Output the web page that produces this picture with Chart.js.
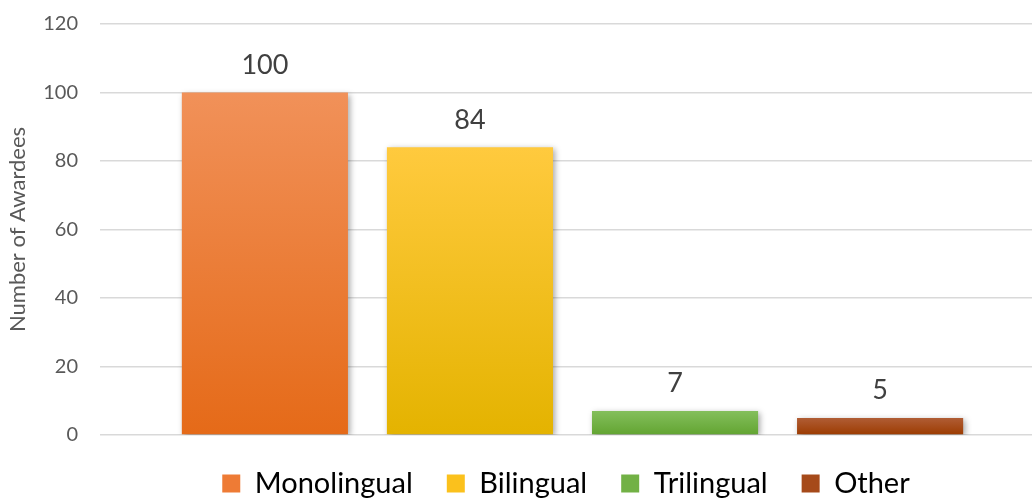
<!DOCTYPE html>
<html>
<head>
<meta charset="utf-8">
<script src="https://cdn.jsdelivr.net/npm/chart.js@4"></script>
<style>
  html, body { margin: 0; padding: 0; background: #fff; }
  #wrap { width: 1032px; height: 499px; }
</style>
</head>
<body>
<div id="wrap"><canvas id="c" width="1032" height="499"></canvas></div>
<script>
const seriesNames = ['Monolingual', 'Bilingual', 'Trilingual', 'Other'];
const seriesValues = [100, 84, 7, 5];
const yTicks = [0, 20, 40, 60, 80, 100, 120];
// gradient top / bottom colours, and a flat colour for the legend
const topColors = ['#F19159', '#FFCA3E', '#84BF5C', '#B05D35'];
const bottomColors = ['#E56A18', '#E4B300', '#62A431', '#9C3B00'];
const legendColors = ['#EE7B35', '#FBC11C', '#72B145', '#A64A1A'];
const FONT = 'Lato, "Open Sans", sans-serif';

// each bar gets its own top-to-bottom gradient
function gradient(i) {
  return (context) => {
    const chart = context.chart;
    const y = chart.scales.y;
    if (!chart.chartArea || !y) return legendColors[i];
    const top = y.getPixelForValue(seriesValues[i]);
    const bottom = y.getPixelForValue(0);
    const g = chart.ctx.createLinearGradient(0, top, 0, bottom);
    g.addColorStop(0, topColors[i]);
    g.addColorStop(1, bottomColors[i]);
    return g;
  };
}

// the original plot runs a little past the right edge of the picture
const widenX = {
  id: 'widenX',
  afterLayout(chart) {
    const x = chart.scales.x;
    x.right += 13;
    x.width = x.right - x.left;
    x.configure();
  }
};

// soft shadow under the bars
const shadowPlugin = {
  id: 'barShadow',
  beforeDatasetsDraw(chart) {
    const ctx = chart.ctx;
    ctx.save();
    ctx.shadowColor = 'rgba(0,0,0,0.35)';
    ctx.shadowBlur = 6;
    ctx.shadowOffsetX = 2;
    ctx.shadowOffsetY = 2;
  },
  afterDatasetsDraw(chart) {
    chart.ctx.restore();
  }
};

// value labels above the bars
const valueLabels = {
  id: 'valueLabels',
  afterDatasetsDraw(chart) {
    const ctx = chart.ctx;
    ctx.save();
    ctx.font = '27px ' + FONT;
    ctx.fillStyle = '#404040';
    ctx.textAlign = 'center';
    ctx.textBaseline = 'bottom';
    chart.data.datasets.forEach((ds, i) => {
      const bar = chart.getDatasetMeta(i).data[0];
      ctx.fillText(String(ds.data[0]), bar.x, bar.y - 14);
    });
    ctx.restore();
  }
};

new Chart(document.getElementById('c'), {
  type: 'bar',
  data: {
    labels: [''],
    datasets: seriesNames.map((name, i) => ({
      label: name,
      data: [seriesValues[i]],
      backgroundColor: gradient(i),
      borderWidth: 0
    }))
  },
  options: {
    responsive: false,
    animation: false,
    events: [],
    datasets: {
      bar: { categoryPercentage: 0.868, barPercentage: 0.81 }
    },
    layout: { padding: 0 },
    plugins: {
      tooltip: { enabled: false },
      legend: {
        position: 'bottom',
        fullSize: false,
        maxHeight: 64,
        labels: {
          font: { family: FONT, size: 29 },
          color: '#595959',
          boxWidth: 18,
          boxHeight: 18,
          padding: 34,
          generateLabels: (chart) => chart.data.datasets.map((ds, i) => ({
            text: ds.label,
            fillStyle: legendColors[i],
            strokeStyle: legendColors[i],
            lineWidth: 0,
            datasetIndex: i
          }))
        }
      }
    },
    scales: {
      x: {
        display: false
      },
      y: {
        min: 0,
        max: 120,
        afterBuildTicks: (axis) => { axis.ticks = yTicks.map(v => ({ value: v })); },
        afterFit: (axis) => { axis.width = 100; axis.paddingTop = 24; },
        grid: { color: '#D9D9D9', lineWidth: 1.5, drawTicks: false },
        border: { display: false },
        ticks: {
          font: { family: FONT, size: 20 },
          color: '#595959',
          padding: 22
        },
        title: {
          display: true,
          text: 'Number of Awardees',
          font: { family: FONT, size: 22 },
          color: '#595959',
          padding: { top: 5, bottom: 2 }
        }
      }
    }
  },
  plugins: [widenX, shadowPlugin, valueLabels]
});
</script>
</body>
</html>
